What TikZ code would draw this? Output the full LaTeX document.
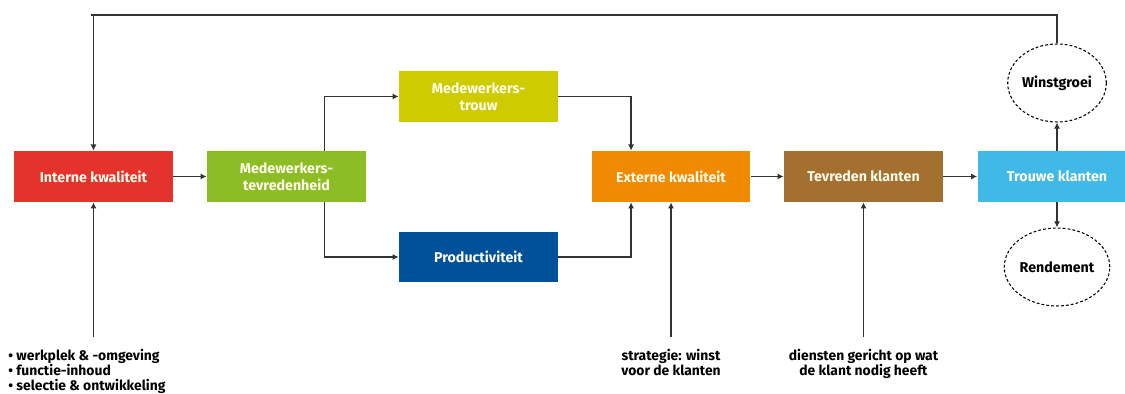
\documentclass[tikz,border=0pt]{standalone}
\usepackage{fontspec}
\setmainfont{Fira Sans}
\usetikzlibrary{arrows.meta,shapes.geometric,calc}
\definecolor{cred}{HTML}{E4332C}
\definecolor{cgreen}{HTML}{8CBD24}
\definecolor{cyellow}{HTML}{CECC00}
\definecolor{cblue}{HTML}{00519A}
\definecolor{corange}{HTML}{F08A00}
\definecolor{cbrown}{HTML}{A4702F}
\definecolor{clblue}{HTML}{41B9E6}
\definecolor{cline}{HTML}{333333}
\definecolor{ctext}{HTML}{FFFBEA}
\tikzset{
  box/.style={rectangle, minimum width=3.18cm, minimum height=1.02cm, inner sep=0pt,
    text=ctext, font=\fontsize{8.1}{9.4}\selectfont\bfseries, align=center},
  circ/.style={ellipse, draw=black, dash pattern=on 1.6pt off 1.2pt, line width=0.6pt,
    minimum width=1.76cm, minimum height=1.56cm, inner sep=0pt, font=\fontsize{8.1}{9.4}\selectfont\bfseries},
  conn/.style={draw=cline, line width=0.75pt},
  arr/.style={conn, -{Latex[length=3.5pt,width=3.5pt]}},
  lbl/.style={font=\fontsize{7.9}{8.6}\selectfont\bfseries, inner sep=0pt}
}
\begin{document}
\begin{tikzpicture}[x=0.02cm,y=-0.02cm]
\clip (0,0) rectangle (1125,394);
\fill[white] (0,0) rectangle (1125,394);

\node[box, fill=cred] (ik) at (93.5,176.5) {Interne kwaliteit};
\node[box, fill=cgreen] (mt) at (286.5,176.5) {Medewerkers-\\tevredenheid};
\node[box, fill=cyellow] (mtr) at (478.5,96.5) {Medewerkers-\\trouw};
\node[box, fill=cblue] (prod) at (478.5,257) {Productiviteit};
\node[box, fill=corange] (ek) at (671,176.5) {Externe kwaliteit};
\node[box, fill=cbrown] (tk) at (863.5,176.5) {Tevreden klanten};
\node[box, fill=clblue] (trk) at (1057,176.5) {Trouwe klanten};
\node[circ] (wg) at (1057,83) {Winstgroei};
\node[circ] (rd) at (1057,267) {Rendement};

\coordinate (top) at (91,15);
\coordinate (in1) at (93.5,337);
\coordinate (in2) at (671,337);
\coordinate (in3) at (863.5,337);

\draw[arr] (wg.north) |- (top) -| (ik.north);
\draw[arr] (ik.east) -- (mt.west);
\draw[arr] ($(mt.north west)!0.74!(mt.north east)$) |- (mtr.west);
\draw[arr] ($(mt.south west)!0.74!(mt.south east)$) |- (prod.west);
\draw[arr] (mtr.east) -| ($(ek.north west)!0.25!(ek.north east)$);
\draw[arr] (prod.east) -| ($(ek.south west)!0.25!(ek.south east)$);
\draw[arr] (ek.east) -- (tk.west);
\draw[arr] (tk.east) -- (trk.west);
\draw[arr] (trk.north) -- (wg.south);
\draw[arr] (trk.south) -- (rd.north);
\draw[arr] (in1) -- (ik.south);
\draw[arr] (in2) -- (ek.south);
\draw[arr] (in3) -- (tk.south);

\node[lbl, anchor=north west, align=left] (l1) at (8,349) {• werkplek \& -omgeving\\• functie-inhoud\\• selectie \& ontwikkeling};
\node[lbl, anchor=north, align=center] (l2) at (671,349) {strategie: winst\\voor de klanten};
\node[lbl, anchor=north, align=center] (l3) at (863.5,349) {diensten gericht op wat\\de klant nodig heeft};
\end{tikzpicture}
\end{document}
